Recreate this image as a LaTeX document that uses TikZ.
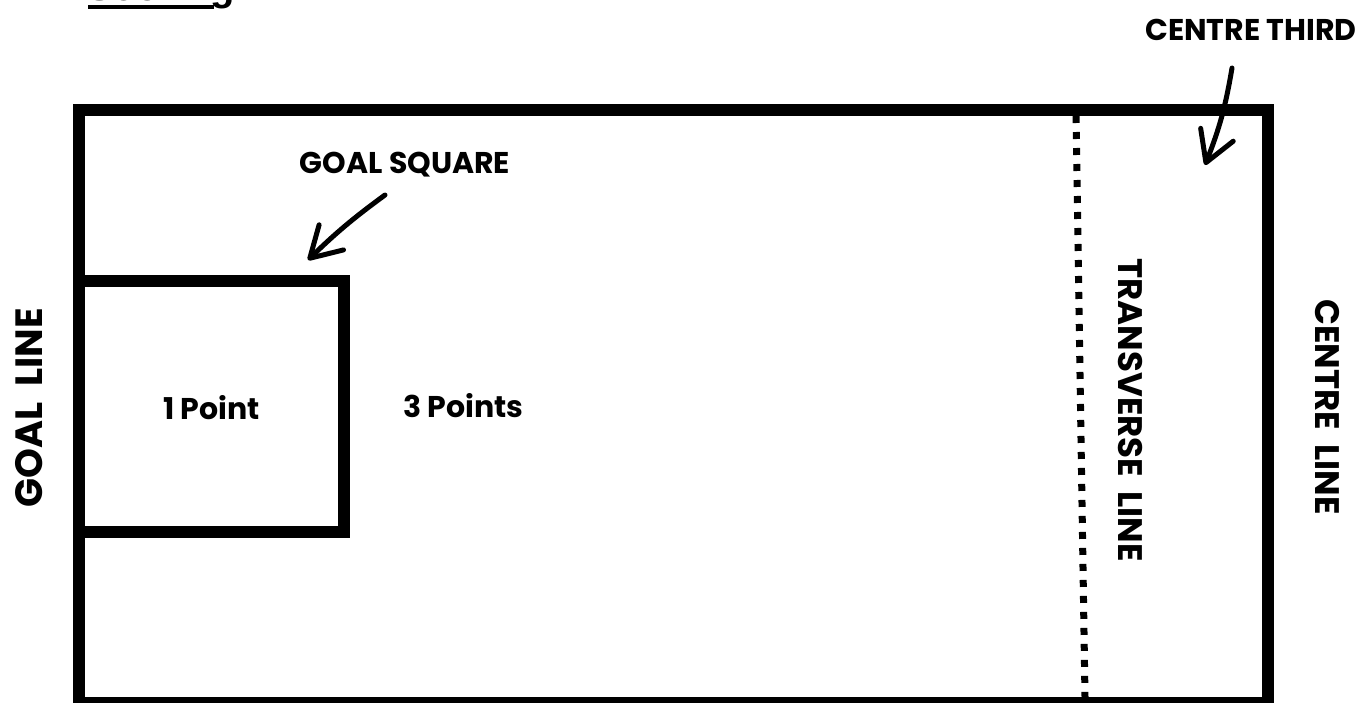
\documentclass[tikz,border=0pt]{standalone}
\usepackage{fontspec}
\setmainfont{Poppins}
\newfontfamily\headfont{Liberation Sans}
\usetikzlibrary{arrows.meta,positioning}

\begin{document}
\begin{tikzpicture}[
  x=1pt, y=1pt,
  pitchline/.style={line width=12pt, line join=miter},
  dotline/.style={line width=7pt, dash pattern=on 7pt off 9pt},
  pointer/.style={line width=5pt, line cap=round,
    -{Straight Barb[length=30pt, width=35pt, round]}},
  lbl/.style={font=\bfseries\fontsize{30}{30}\selectfont, inner sep=0pt, anchor=base},
  sidelbl/.style={font=\bfseries\fontsize{38}{38}\selectfont, inner sep=0pt, anchor=base}
]

%% ── CANVAS ──────────────────────────────────────────────────────
\useasboundingbox[fill=white] (0,0) rectangle (1365,-702);

%% ── HEADING (cut off at the top) ────────────────────────────────
\node[font=\headfont\bfseries\fontsize{40}{40}\selectfont, inner sep=0pt,
      anchor=base west] (score) at (86,0) {Scoring:};
\draw[line width=4pt] ([xshift=2pt, yshift=-7pt]score.base west) -- ++(126,0);

%% ── PITCH ───────────────────────────────────────────────────────
\draw[pitchline] (79,-110) rectangle (1268,-703);

%% goal square on the goal line
\draw[pitchline] (73,-281) -- (343.5,-281) -- (343.5,-531.5) -- (73,-531.5);

%% transverse line
\draw[dotline] (1076,-116) -- (1085,-697);

%% ── LABELS ──────────────────────────────────────────────────────
\node[lbl] (third)  at (1251,-40)  {CENTRE THIRD};
\node[lbl] (square) at (405,-173)  {GOAL SQUARE};
\node[lbl] (one)    at (211.5,-419) {1 Point};
\node[lbl] (three)  at (463.5,-417) {3 Points};

\node[sidelbl, rotate=90]  (goal)  at (42,-408)   {GOAL\ \ LINE};
\node[sidelbl, rotate=-90, font=\bfseries\fontsize{34}{34}\selectfont]
  (trans) at (1118,-410) {TRANSVERSE\ \ LINE};
\node[sidelbl, rotate=-90, font=\bfseries\fontsize{34}{34}\selectfont]
  (centre) at (1315,-407) {CENTRE\ \ LINE};

%% ── POINTERS ────────────────────────────────────────────────────
\coordinate (thirdtail) at (1232,-68);
\coordinate (thirdtip)  at (1205,-165);
\coordinate (squaretail) at (385,-195);
\coordinate (squaretip)  at (308,-260);

\draw[pointer] (thirdtail) to[bend left=6] (thirdtip);
\draw[pointer] (squaretail) to[bend right=4] (squaretip);

\end{tikzpicture}
\end{document}
